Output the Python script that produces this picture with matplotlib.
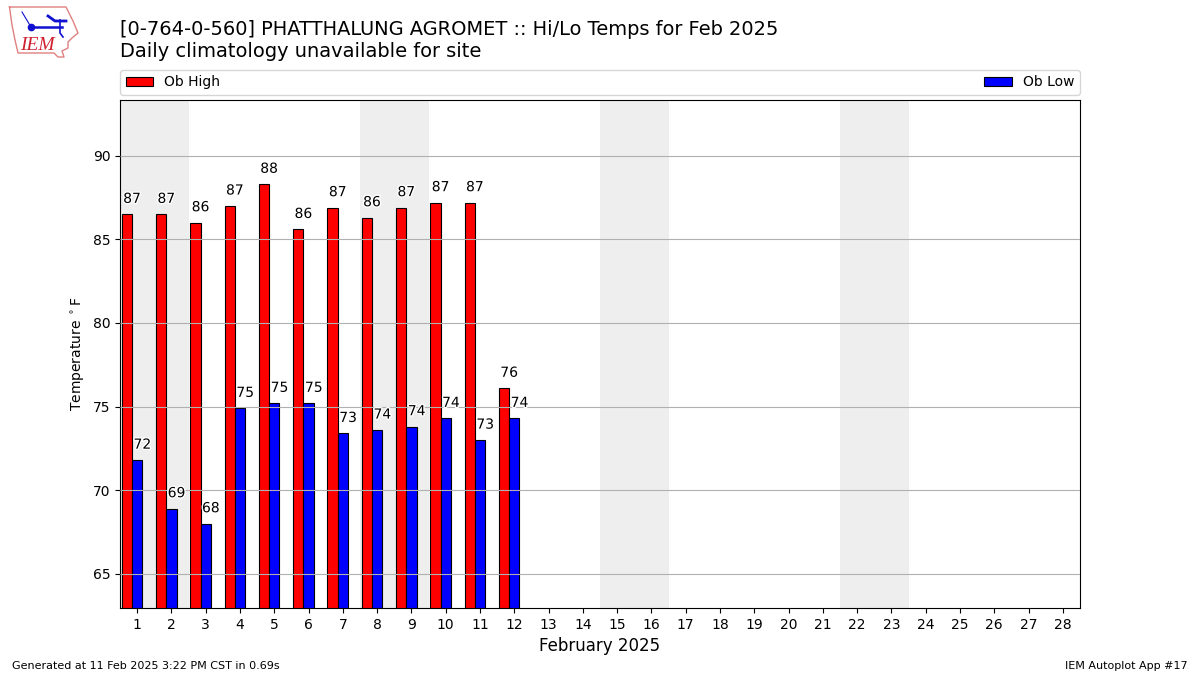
import numpy as np
import matplotlib as mpl
mpl.use('Agg')
import matplotlib.pyplot as plt
import matplotlib.patheffects as pe

days = np.arange(1, 29)
obs_days = np.arange(1, 13)
highs = [86.5, 86.5, 86.0, 87.0, 88.3, 85.6, 86.9, 86.3, 86.9, 87.2, 87.2, 76.1]
lows = [71.8, 68.9, 68.0, 74.9, 75.2, 75.2, 73.4, 73.6, 73.8, 74.3, 73.0, 74.3]
high_labels = [87, 87, 86, 87, 88, 86, 87, 86, 87, 87, 87, 76]
low_labels = [72, 69, 68, 75, 75, 75, 73, 74, 74, 74, 73, 74]
weekends = [1, 8, 15, 22]

W, H = 1200.0, 675.0

fig = plt.figure(figsize=(12, 6.75), dpi=100)
ax = fig.add_axes([120 / W, 1 - 608 / H, 960 / W, 508 / H])

for start in weekends:
    ax.axvspan(start - 0.5, start + 1.5, color='#eeeeee', lw=0, zorder=0)

bars_hi = ax.bar(obs_days - 0.3, highs, width=0.3, color='red', edgecolor='k', lw=0.8, label='Ob High', zorder=2)
bars_lo = ax.bar(obs_days, lows, width=0.3, color='blue', edgecolor='k', lw=0.8, label='Ob Low', zorder=2)

halo = [pe.withStroke(linewidth=2, foreground='white')]
for d, v, t in zip(obs_days, highs, high_labels):
    ax.annotate(str(t), (d - 0.15, v), xytext=(0, 6), textcoords='offset points', ha='center', va='bottom',
                fontsize=10, path_effects=halo, zorder=4)
for d, v, t in zip(obs_days, lows, low_labels):
    ax.annotate(str(t), (d + 0.15, v), xytext=(0, 6), textcoords='offset points', ha='center', va='bottom',
                fontsize=10, path_effects=halo, zorder=4)

ax.set_xlim(0.5, 28.5)
ax.set_ylim(62.95, 93.33)
ax.set_xticks(days)
ax.set_yticks([65, 70, 75, 80, 85, 90])
ax.yaxis.grid(True, color='#b0b0b0', lw=0.8, zorder=3)
ax.set_axisbelow(False)
ax.tick_params(axis='both', labelsize=10)
ax.set_xlabel('February 2025', fontsize=12)
ax.set_ylabel(r'Temperature $^\circ$F', fontsize=10)

ax.legend(handles=[bars_hi, bars_lo], loc='lower left', bbox_to_anchor=(0, 1.010, 1, 0.05),
          mode='expand', ncol=2, fontsize=10, borderaxespad=0)

fig.text(120 / W, 1 - 29.5 / H, '[0-764-0-560] PHATTHALUNG AGROMET :: Hi/Lo Temps for Feb 2025', fontsize=13.98, va='center')
fig.text(120 / W, 1 - 51.5 / H, 'Daily climatology unavailable for site', fontsize=13.98, va='center')
fig.text(12 / W, 1 - 666 / H, 'Generated at 11 Feb 2025 3:22 PM CST in 0.69s', fontsize=8, va='center')
fig.text(1188 / W, 1 - 666 / H, 'IEM Autoplot App #17', fontsize=8, va='center', ha='right')

# logo, rough sketch in pixel coords
logo = fig.add_axes([0, 1 - 60 / H, 85 / W, 60 / H])
logo.set_xlim(0, 85)
logo.set_ylim(60, 0)
logo.axis('off')
outline_x = [9.5, 66, 70, 73, 78, 72, 68, 68, 62, 64, 58, 54, 18, 15, 12, 9.5]
outline_y = [7, 7, 15, 21, 33, 38, 42, 48, 51, 57, 57, 53, 53, 40, 25, 7]
logo.plot(outline_x, outline_y, color='#e08080', lw=1)
logo.plot([31, 62], [27, 27], color='#1010d0', lw=1.8)
logo.plot([60, 60, 63], [20, 33, 37], color='#1010d0', lw=1.2)
logo.plot([22, 31], [12, 27], color='#1010d0', lw=0.8)
logo.plot([48, 55, 66], [16, 21, 21], color='#1010d0', lw=2)
logo.plot([31], [27], 'o', color='#1010d0', ms=4.5)
logo.text(20, 45, 'IEM', family='Liberation Serif', style='italic', color='#d02030', fontsize=14, va='center')

fig.savefig('out.png', dpi=100)
